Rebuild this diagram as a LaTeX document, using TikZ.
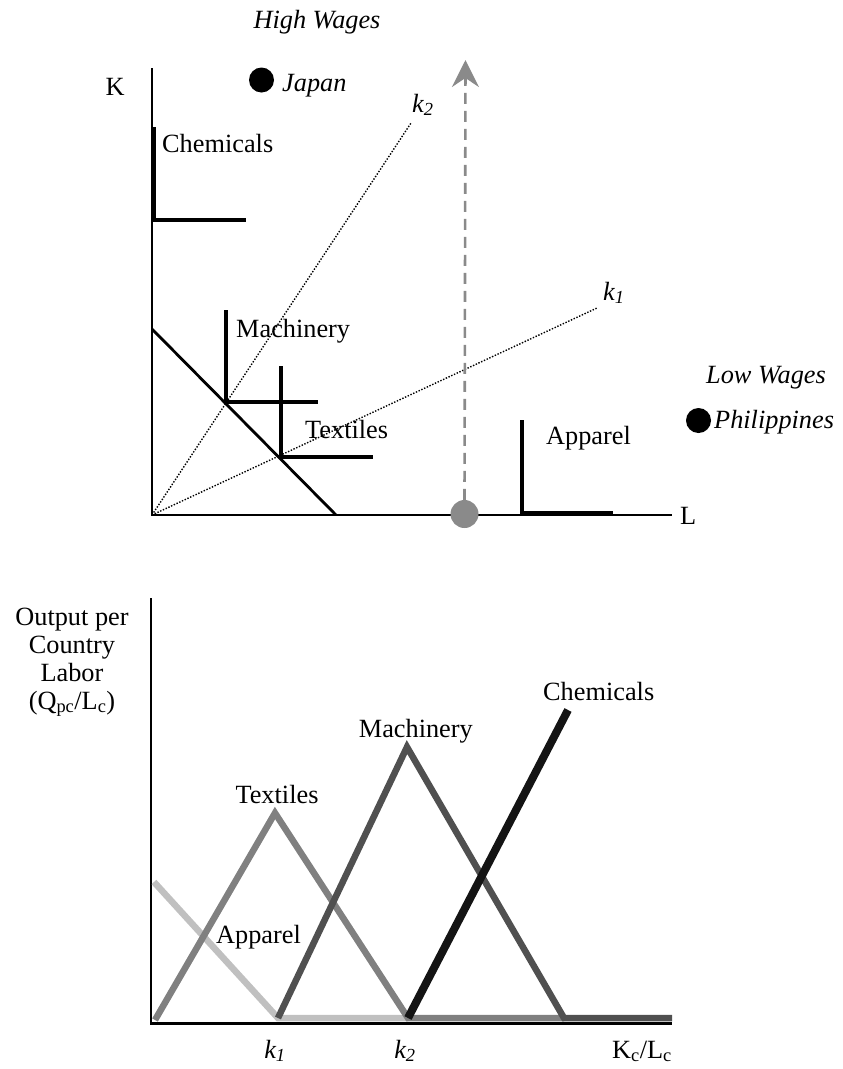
\documentclass[tikz,border=0pt]{standalone}
\usepackage{fontspec}
\setmainfont{Liberation Serif}
\usetikzlibrary{arrows.meta}
\definecolor{appc}{HTML}{C0C0C0}
\definecolor{texc}{HTML}{808080}
\definecolor{macc}{HTML}{505050}
\definecolor{chec}{HTML}{141414}
\definecolor{dashc}{HTML}{8A8A8A}
\begin{document}
\begin{tikzpicture}[x=1pt,y=-1pt,
  lbl/.style={inner sep=0pt, font=\fontsize{26.3}{27.8}\selectfont},
  ilbl/.style={inner sep=0pt, font=\fontsize{26.3}{27.8}\selectfont\itshape},
  axisline/.style={line width=2.6pt, black},
  isoline/.style={line width=3.2pt, black},
  rayline/.style={line width=1.4pt, dash pattern=on 1.4pt off 1.6pt},
  curve/.style={line width=6.5pt, line join=miter},
  dot/.style={circle, fill=black, minimum size=25pt, inner sep=0pt},
  gdot/.style={circle, fill=dashc, minimum size=28pt, inner sep=0pt}]
\useasboundingbox (0,0) rectangle (843,1069);

% ---------- top chart ----------
\coordinate (O) at (152,515);
\coordinate (Ktop) at (152,68);
\coordinate (Lend) at (672,515);
\draw[axisline] (Ktop) -- (O) -- (Lend);
\node[lbl, anchor=base] (K) at (115,95) {K};
\node[lbl, anchor=base west] (L) at (680,524) {L};
\node[ilbl, anchor=base] (hw) at (317,28) {High Wages};
\node[dot] (japan) at (261.5,80) {};
\node[ilbl, anchor=base west] (japant) at (282,91) {Japan};
\node[ilbl, anchor=base] (lw) at (766,383) {Low Wages};
\node[dot] (phil) at (698.5,420.5) {};
\node[ilbl, anchor=base west] (philt) at (714,428) {Philippines};

% budget line
\coordinate (B1) at (152,329);
\coordinate (B2) at (336,515);
\draw[isoline, line width=2.8pt] (B1) -- (B2);

% rays
\coordinate (R2) at (411,123);
\coordinate (R1) at (597,308);
\draw[rayline] (O) -- (R2);
\draw[rayline] (O) -- (R1);
\node[ilbl, anchor=base west] (k2t) at (412,112) {k\textsubscript{2}};
\node[ilbl, anchor=base west] (k1t) at (603,300) {k\textsubscript{1}};

% isoquants
\coordinate (Cc) at (154,220);
\draw[isoline] (154,127) -- (Cc) -- (246,220);
\node[lbl, anchor=base west] (chemt) at (162,152) {Chemicals};
\coordinate (Mc) at (226,402);
\draw[isoline] (226,310) -- (Mc) -- (318,402);
\node[lbl, anchor=base west] (mact) at (236,337) {Machinery};
\coordinate (Tc) at (281,457);
\draw[isoline] (281,366) -- (Tc) -- (373,457);
\node[lbl, anchor=base west] (text) at (305,438) {Textiles};
\coordinate (Ac) at (522,513);
\draw[isoline] (522,420) -- (Ac) -- (613,513);
\node[lbl, anchor=base west] (appt) at (546,444) {Apparel};

% dashed arrow
\node[gdot] (gd) at (464.5,514) {};
\coordinate (atip) at (465.5,60);
\draw[dashc, line width=2.6pt, dash pattern=on 11pt off 7pt,
  -{Stealth[length=27pt,width=27pt,inset=9pt]}] (gd.north) -- (atip);

% ---------- bottom chart ----------
\coordinate (P) at (151,1023.5);
\coordinate (Ytop) at (151,598);
\coordinate (Xend) at (672,1023.5);
\draw[axisline] (Ytop) -- (P) -- (Xend);
\node[lbl, anchor=north, align=center] (ylab) at (72,608)
  {Output per\\Country\\Labor\\(Q\textsubscript{pc}/L\textsubscript{c})};
\node[lbl, anchor=base east] (xlab) at (672,1058) {K\textsubscript{c}/L\textsubscript{c}};
\node[ilbl, anchor=base] (k1b) at (275,1058) {k\textsubscript{1}};
\node[ilbl, anchor=base] (k2b) at (405,1058) {k\textsubscript{2}};

\coordinate (a0) at (154,882);
\coordinate (k1p) at (278,1018);
\coordinate (k2p) at (408,1018);
\coordinate (t0) at (155,1020);
\coordinate (tpk) at (275,813);
\coordinate (mpk) at (407,747);
\coordinate (m1) at (564,1018);
\coordinate (rend) at (672,1018);
\coordinate (ctop) at (568,710);

\draw[curve, appc] (a0) -- (k1p) -- (k2p);
\draw[curve, texc] (t0) -- (tpk) -- (k2p) -- (m1);
\draw[curve, macc] (k1p) -- (mpk) -- (m1) -- (rend);
\draw[curve, chec, line width=8pt] (k2p) -- (ctop);

\node[lbl, anchor=base] (textb) at (277,803) {Textiles};
\node[lbl, anchor=base west] (appb) at (216,943) {Apparel};
\node[lbl, anchor=base east] (macb) at (473,737) {Machinery};
\node[lbl, anchor=base west] (chemb) at (543,700) {Chemicals};
\end{tikzpicture}
\end{document}
